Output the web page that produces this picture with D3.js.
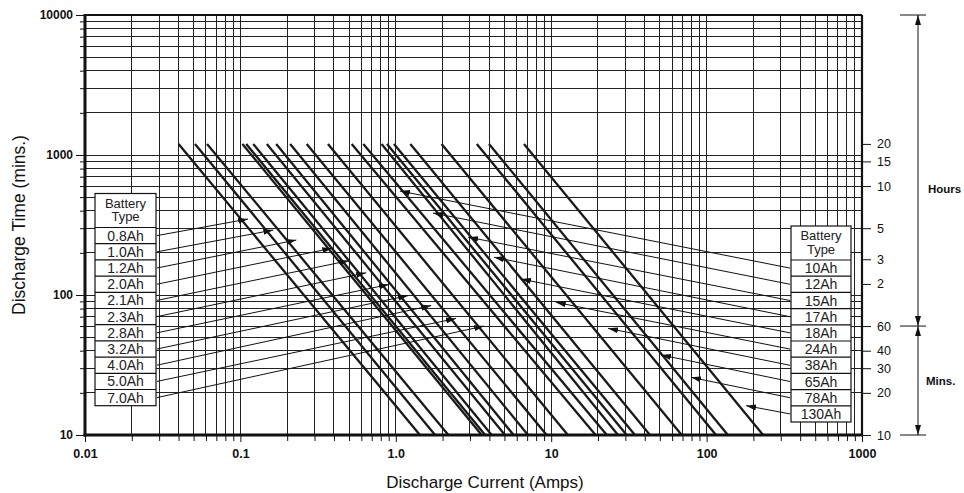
<!DOCTYPE html>
<html>
<head>
<meta charset="utf-8">
<script src="https://cdn.jsdelivr.net/npm/d3@7"></script>
<style>
  body { margin: 0; background: #fff; }
  svg { display: block; font-family: "Liberation Sans", Arial, sans-serif; }
  .grid line { stroke: #222; stroke-width: 1; shape-rendering: crispEdges; }
  .axis path { display: none; }
  .axis line { stroke: #111; stroke-width: 1; }
  .axis text { fill: #111; }
</style>
</head>
<body>
<svg id="chart" width="964" height="493"></svg>
<script>
'use strict';

// battery types, left legend then right legend
var leftTypes = ['0.8Ah', '1.0Ah', '1.2Ah', '2.0Ah', '2.1Ah', '2.3Ah', '2.8Ah', '3.2Ah', '4.0Ah', '5.0Ah', '7.0Ah'];
var rightTypes = ['10Ah', '12Ah', '15Ah', '17Ah', '18Ah', '24Ah', '38Ah', '65Ah', '78Ah', '130Ah'];

// current (A) where each curve starts at 1200 min and ends at 10 min
var startAmps = [0.040, 0.051, 0.061, 0.103, 0.109, 0.121, 0.148, 0.170, 0.209, 0.267, 0.366,
  0.52, 0.618, 0.81, 0.877, 0.973, 1.24, 1.97, 3.32, 3.98, 6.68];
var endAmps = [1.43, 1.79, 2.18, 3.57, 3.76, 4.14, 5.04, 5.73, 7.09, 9.35, 12.8,
  19.3, 22.8, 26.9, 30.6, 34.6, 43.2, 69.2, 115, 137, 231];
var startMins = 1200;
var endMins = 10;

// arrow tips [amps, minutes]
var leftTips = [[0.112, 349], [0.163, 291], [0.229, 247], [0.39, 216], [0.50, 176], [0.645, 144],
  [0.905, 119], [1.2, 99], [1.69, 84], [2.44, 68], [3.7, 60]];
var rightTips = [[1.064, 553], [1.735, 385], [2.92, 259], [4.29, 186], [6.39, 130], [10.7, 88.7],
  [23.2, 57.8], [50.9, 37.3], [79.3, 25.8], [179.5, 16.2]];

// axis ticks
var xMajor = [0.01, 0.1, 1, 10, 100, 1000];
var xLabels = ['0.01', '0.1', '1.0', '10', '100', '1000'];
var yMajor = [10, 100, 1000, 10000];
var yLabels = ['10', '100', '1000', '10000'];
var rightTicks = [1200, 900, 600, 300, 180, 120, 60, 40, 30, 20, 10];
var rightLabels = ['20', '15', '10', '5', '3', '2', '60', '40', '30', '20', '10'];

(function () {
  var svg = d3.select('#chart');
  var pLeft = 85, pRight = 862, pTop = 15, pBottom = 435;

  var x = d3.scaleLog().domain([0.01, 1000]).range([pLeft, pRight]);
  var y = d3.scaleLog().domain([10, 10000]).range([pBottom, pTop]);

  function minors(lo, hi) {
    var out = [];
    for (var d = lo; d < hi * 0.999; d *= 10) {
      for (var k = 2; k <= 9; k++) out.push(d * k);
    }
    return out;
  }
  var xMinor = minors(0.01, 1000);
  var yMinor = minors(10, 10000);

  svg.append('defs').append('marker')
      .attr('id', 'head')
      .attr('viewBox', '0 0 10 6')
      .attr('refX', 10)
      .attr('refY', 3)
      .attr('markerWidth', 10)
      .attr('markerHeight', 6)
      .attr('markerUnits', 'userSpaceOnUse')
      .attr('orient', 'auto')
    .append('path')
      .attr('d', 'M0,0 L10,3 L0,6 Z')
      .attr('fill', '#111');

  // Grid
  var grid = svg.append('g').attr('class', 'grid');
  grid.selectAll('line.v')
      .data(xMinor.concat(xMajor))
    .enter().append('line')
      .attr('class', 'v')
      .attr('x1', function (d) { return x(d); })
      .attr('x2', function (d) { return x(d); })
      .attr('y1', pTop)
      .attr('y2', pBottom);
  grid.selectAll('line.h')
      .data(yMinor.concat(yMajor))
    .enter().append('line')
      .attr('class', 'h')
      .attr('x1', pLeft)
      .attr('x2', pRight)
      .attr('y1', function (d) { return y(d); })
      .attr('y2', function (d) { return y(d); });

  // Curves
  var curves = startAmps.map(function (s, i) {
    return [[s, startMins], [endAmps[i], endMins]];
  });
  var line = d3.line()
      .x(function (d) { return x(d[0]); })
      .y(function (d) { return y(d[1]); });
  svg.append('g').selectAll('path')
      .data(curves)
    .enter().append('path')
      .attr('d', line)
      .attr('fill', 'none')
      .attr('stroke', '#1a1a1a')
      .attr('stroke-width', 2.3);

  // Frame
  var frame = svg.append('g').attr('stroke', '#111');
  frame.append('line').attr('x1', pLeft).attr('x2', pRight).attr('y1', pTop).attr('y2', pTop).attr('stroke-width', 2);
  frame.append('line').attr('x1', pRight).attr('x2', pRight).attr('y1', pTop).attr('y2', pBottom).attr('stroke-width', 2.2);
  frame.append('line').attr('x1', pLeft).attr('x2', pLeft).attr('y1', pTop - 1).attr('y2', pBottom + 1.5).attr('stroke-width', 3);
  frame.append('line').attr('x1', pLeft - 1.5).attr('x2', pRight + 1).attr('y1', pBottom).attr('y2', pBottom).attr('stroke-width', 3);

  // Axes
  svg.append('g')
      .attr('class', 'axis')
      .attr('transform', 'translate(' + (pLeft - 1) + ',0)')
      .call(d3.axisLeft(y).tickValues(yMinor).tickSize(4).tickFormat(''));
  svg.append('g')
      .attr('class', 'axis')
      .attr('transform', 'translate(' + (pLeft - 1) + ',0)')
      .call(d3.axisLeft(y).tickValues(yMajor).tickSize(8).tickPadding(3)
        .tickFormat(function (d, i) { return yLabels[i]; }))
      .selectAll('text')
      .style('font-size', '12px')
      .style('font-weight', 'bold');

  svg.append('g')
      .attr('class', 'axis')
      .attr('transform', 'translate(0,' + (pBottom + 1) + ')')
      .call(d3.axisBottom(x).tickValues(xMinor).tickSize(5).tickFormat(''));
  svg.append('g')
      .attr('class', 'axis')
      .attr('transform', 'translate(0,' + (pBottom + 1) + ')')
      .call(d3.axisBottom(x).tickValues(xMajor).tickSize(6).tickPadding(7)
        .tickFormat(function (d, i) { return xLabels[i]; }))
      .selectAll('text')
      .style('font-size', '12.5px')
      .style('font-weight', 'bold');

  svg.append('g')
      .attr('class', 'axis')
      .attr('transform', 'translate(' + (pRight + 1) + ',0)')
      .call(d3.axisRight(y).tickValues(rightTicks).tickSize(8).tickPadding(6)
        .tickFormat(function (d, i) { return rightLabels[i]; }))
      .selectAll('text')
      .style('font-size', '12.5px');

  // Axis titles
  svg.append('text')
      .attr('x', 485)
      .attr('y', 488)
      .attr('text-anchor', 'middle')
      .style('font-size', '17px')
      .attr('fill', '#111')
      .text('Discharge Current (Amps)');
  svg.append('text')
      .attr('transform', 'translate(25,' + ((pTop + pBottom) / 2) + ') rotate(-90)')
      .attr('text-anchor', 'middle')
      .style('font-size', '17.5px')
      .attr('fill', '#111')
      .text('Discharge Time (mins.)');

  // Hours / Mins bracket
  var bx = 918;
  var bracket = svg.append('g').attr('stroke', '#111').attr('stroke-width', 1);
  [10000, 60, 10].forEach(function (v) {
    bracket.append('line')
        .attr('x1', bx - 18).attr('x2', bx + 8)
        .attr('y1', y(v)).attr('y2', y(v));
  });
  // each span gets an arrow at both ends
  [[1000, 10000], [1000, 60], [30, 60], [30, 10]].forEach(function (p) {
    bracket.append('line')
        .attr('x1', bx).attr('x2', bx)
        .attr('y1', y(p[0])).attr('y2', y(p[1]))
        .attr('marker-end', 'url(#head)');
  });

  svg.append('text').attr('x', 928).attr('y', 193)
      .style('font-size', '11.5px').style('font-weight', 'bold').attr('fill', '#111').text('Hours');
  svg.append('text').attr('x', 926).attr('y', 385)
      .style('font-size', '11.5px').style('font-weight', 'bold').attr('fill', '#111').text('Mins.');

  // Legends
  function legend(types, tips, bx0, bw, by0, headH, rowH, side) {
    var g = svg.append('g');
    var rowY = types.map(function (t, i) { return by0 + headH + rowH * i + rowH / 2; });

    g.selectAll('line.leader')
        .data(tips)
      .enter().append('line')
        .attr('class', 'leader')
        .attr('stroke', '#111')
        .attr('stroke-width', 1)
        .attr('x1', side === 'left' ? bx0 + bw + 1 : bx0 - 1)
        .attr('y1', function (d, i) { return rowY[i]; })
        .attr('x2', function (d) { return x(d[0]); })
        .attr('y2', function (d) { return y(d[1]); })
        .attr('marker-end', 'url(#head)');

    g.append('rect')
        .attr('x', bx0).attr('y', by0)
        .attr('width', bw).attr('height', headH + rowH * types.length)
        .attr('fill', '#fff').attr('stroke', '#111').attr('stroke-width', 1.2);
    g.append('text').attr('x', bx0 + bw / 2).attr('y', by0 + 14)
        .attr('text-anchor', 'middle').style('font-size', '13px').attr('fill', '#222').text('Battery');
    g.append('text').attr('x', bx0 + bw / 2).attr('y', by0 + 27.5)
        .attr('text-anchor', 'middle').style('font-size', '13px').attr('fill', '#222').text('Type');
    types.forEach(function (t, i) {
      g.append('line')
          .attr('x1', bx0).attr('x2', bx0 + bw)
          .attr('y1', by0 + headH + rowH * i).attr('y2', by0 + headH + rowH * i)
          .attr('stroke', '#111').attr('stroke-width', 1.2);
      g.append('text')
          .attr('x', bx0 + bw / 2).attr('y', rowY[i] + 5)
          .attr('text-anchor', 'middle')
          .style('font-size', '14px')
          .attr('fill', '#222')
          .text(t);
    });
  }

  legend(leftTypes, leftTips, 95, 61, 193.5, 34, 16.2, 'left');
  legend(rightTypes, rightTips, 791, 60, 226, 34, 16.2, 'right');
})();
</script>
</body>
</html>
